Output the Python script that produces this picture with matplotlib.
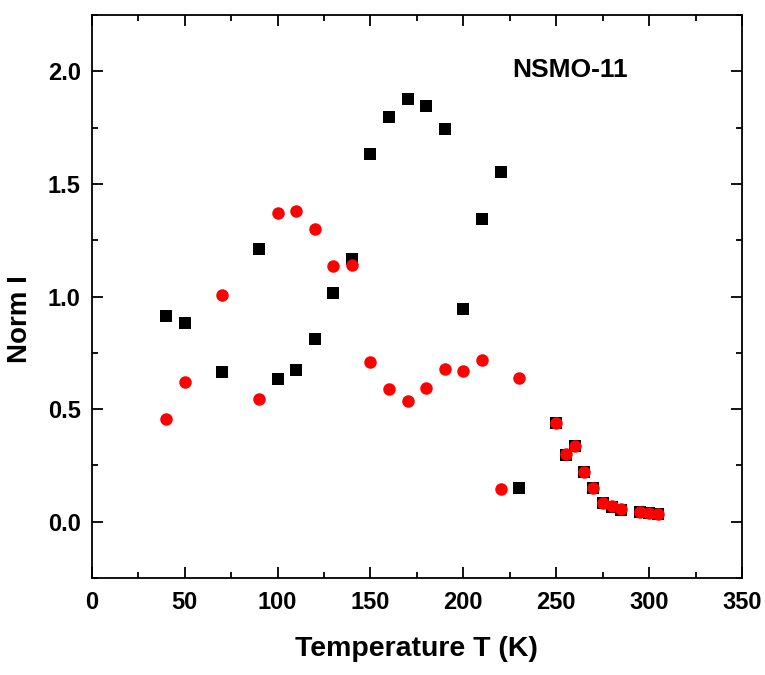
import matplotlib
matplotlib.use('Agg')
import matplotlib.pyplot as plt
from matplotlib.ticker import MultipleLocator

plt.rcParams['font.family'] = ['Liberation Sans', 'DejaVu Sans']

# black squares
temp_sq = [40, 50, 70, 90, 100, 110, 120, 130, 140, 150, 160, 170, 180, 190,
           200, 210, 220, 230, 250, 255, 260, 265, 270, 275, 280, 285, 295, 300, 305]
norm_sq = [0.914, 0.883, 0.665, 1.21, 0.635, 0.674, 0.811, 1.015, 1.166, 1.634,
           1.798, 1.877, 1.847, 1.744, 0.944, 1.345, 1.553, 0.150, 0.438, 0.296,
           0.337, 0.222, 0.150, 0.083, 0.065, 0.052, 0.043, 0.039, 0.035]

# red circles
temp_ci = [40, 50, 70, 90, 100, 110, 120, 130, 140, 150, 160, 170, 180, 190,
           200, 210, 220, 230, 250, 255, 260, 265, 270, 275, 280, 285, 295, 300, 305]
norm_ci = [0.456, 0.621, 1.006, 0.545, 1.371, 1.38, 1.30, 1.136, 1.14, 0.710,
           0.590, 0.536, 0.594, 0.678, 0.670, 0.719, 0.145, 0.638, 0.440, 0.300,
           0.335, 0.220, 0.148, 0.085, 0.068, 0.056, 0.043, 0.039, 0.036]

fig = plt.figure(figsize=(7.65, 6.75), dpi=100)
ax = fig.add_axes([0.120, 0.1437, 0.850, 0.834])

ax.plot(temp_sq, norm_sq, 's', color='black', ms=8, mew=0)
ax.plot(temp_ci, norm_ci, 'o', color='#ff0000', ms=9, mew=0)

ax.set_xlim(0, 350)
ax.set_ylim(-0.25, 2.25)
ax.xaxis.set_major_locator(MultipleLocator(50))
ax.xaxis.set_minor_locator(MultipleLocator(25))
ax.yaxis.set_major_locator(MultipleLocator(0.5))
ax.yaxis.set_minor_locator(MultipleLocator(0.25))
ax.yaxis.set_major_formatter(plt.FormatStrFormatter('%.1f'))

ax.tick_params(which='both', direction='in', top=True, right=True, width=1.3)
ax.tick_params(which='major', length=8, labelsize=17)
ax.tick_params(axis='x', which='major', pad=9)
ax.tick_params(axis='y', which='major', pad=8)
ax.tick_params(which='minor', length=4.5)
for lab in ax.get_xticklabels() + ax.get_yticklabels():
    lab.set_fontweight('bold')
for spine in ax.spines.values():
    spine.set_linewidth(1.3)

ax.set_xlabel('Temperature T (K)', fontsize=20.5, fontweight='bold', labelpad=16)
ax.set_ylabel('Norm I', fontsize=20, fontweight='bold')
ax.yaxis.set_label_coords(-0.091, 0.46)
ax.text(0.646, 0.890, 'NSMO-11', transform=ax.transAxes, fontsize=19,
        fontweight='bold')

fig.savefig('out.png', dpi=100)
